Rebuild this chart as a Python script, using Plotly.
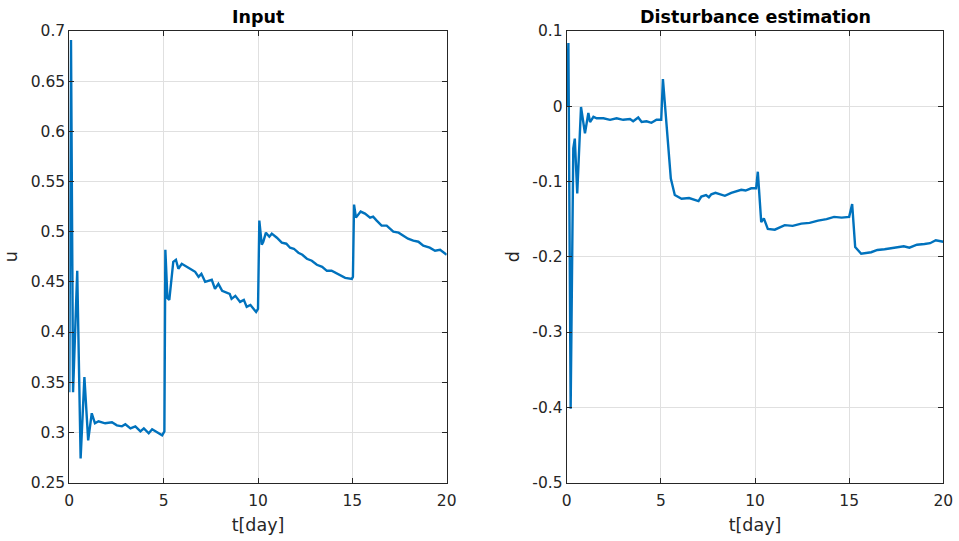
import plotly.graph_objects as go

# Control input u(t)
t_u = [0, 0.09, 0.2, 0.42, 0.6, 0.8, 1.0, 1.19, 1.36, 1.55, 1.9, 2.26, 2.52, 2.79,
       2.97, 3.24, 3.5, 3.77, 3.95, 4.21, 4.39, 4.65, 4.92, 5.04, 5.09, 5.2, 5.3,
       5.51, 5.65, 5.78, 5.96, 6.4, 6.67, 6.85, 7.0, 7.2, 7.55, 7.72, 7.9, 8.1,
       8.5, 8.6, 8.8, 9.05, 9.25, 9.4, 9.6, 9.9, 10.0, 10.07, 10.2, 10.28, 10.42,
       10.6, 10.73, 11.0, 11.26, 11.5, 11.7, 11.9, 12.14, 12.35, 12.59, 12.85,
       13.12, 13.4, 13.65, 13.9, 14.18, 14.4, 14.62, 14.97, 15.03, 15.09, 15.19,
       15.44, 15.67, 15.94, 16.1, 16.29, 16.55, 16.82, 17.0, 17.17, 17.45, 17.7,
       17.95, 18.23, 18.5, 18.76, 19.1, 19.38, 19.65, 20]
u = [0.340, 0.691, 0.340, 0.461, 0.274, 0.355, 0.292, 0.319, 0.309, 0.311, 0.309,
     0.310, 0.307, 0.306, 0.308, 0.304, 0.306, 0.301, 0.304, 0.299, 0.303, 0.300,
     0.297, 0.301, 0.482, 0.434, 0.432, 0.470, 0.472, 0.463, 0.468, 0.463, 0.460,
     0.455, 0.458, 0.450, 0.452, 0.443, 0.448, 0.441, 0.438, 0.433, 0.436, 0.430,
     0.432, 0.425, 0.427, 0.420, 0.423, 0.511, 0.487, 0.490, 0.499, 0.495, 0.498,
     0.494, 0.489, 0.488, 0.484, 0.483, 0.479, 0.477, 0.473, 0.471, 0.467, 0.465,
     0.461, 0.461, 0.458, 0.456, 0.454, 0.453, 0.455, 0.527, 0.514, 0.520, 0.518,
     0.514, 0.515, 0.511, 0.506, 0.506, 0.503, 0.500, 0.499, 0.496, 0.493, 0.491,
     0.490, 0.486, 0.484, 0.481, 0.482, 0.477]

# Estimated disturbance d(t)
t_d = [0, 0.09, 0.21, 0.35, 0.43, 0.56, 0.76, 0.97, 1.15, 1.24, 1.42, 1.59, 1.95,
       2.3, 2.65, 3.0, 3.36, 3.53, 3.8, 3.98, 4.24, 4.5, 4.77, 5.02, 5.11, 5.35,
       5.53, 5.74, 6.1, 6.5, 6.8, 7.0, 7.15, 7.4, 7.55, 7.68, 7.9, 8.2, 8.4, 8.74,
       9.0, 9.27, 9.5, 9.8, 10.06, 10.15, 10.33, 10.47, 10.68, 11.05, 11.58,
       12.0, 12.46, 12.9, 13.35, 13.8, 14.2, 14.6, 15.0, 15.16, 15.32, 15.64,
       16.17, 16.5, 16.88, 17.4, 17.9, 18.2, 18.6, 19.0, 19.3, 19.6, 20]
d = [0.0, 0.084, -0.402, -0.056, -0.043, -0.116, -0.001, -0.036, -0.009, -0.021,
     -0.014, -0.016, -0.016, -0.018, -0.016, -0.018, -0.017, -0.020, -0.015,
     -0.021, -0.020, -0.022, -0.018, -0.018, 0.036, -0.041, -0.096, -0.118,
     -0.123, -0.122, -0.124, -0.126, -0.120, -0.118, -0.121, -0.117, -0.115,
     -0.117, -0.119, -0.115, -0.113, -0.111, -0.112, -0.109, -0.109, -0.087,
     -0.154, -0.149, -0.163, -0.164, -0.158, -0.159, -0.156, -0.155, -0.152,
     -0.150, -0.147, -0.148, -0.147, -0.130, -0.187, -0.196, -0.194, -0.191,
     -0.190, -0.188, -0.186, -0.188, -0.184, -0.183, -0.182, -0.178, -0.180]

x_ticks = [0, 5, 10, 15, 20]
u_ticks = [0.25, 0.3, 0.35, 0.4, 0.45, 0.5, 0.55, 0.6, 0.65, 0.7]
u_tick_text = ["0.25", "0.3", "0.35", "0.4", "0.45", "0.5", "0.55", "0.6", "0.65", "0.7"]
d_ticks = [-0.5, -0.4, -0.3, -0.2, -0.1, 0, 0.1]
d_tick_text = ["-0.5", "-0.4", "-0.3", "-0.2", "-0.1", "0", "0.1"]

LINE_BLUE = "#0072BD"
AX_COLOR = "#262626"
GRID = "#e0e0e0"
FONT = "DejaVu Sans"

fig = go.Figure()
fig.add_trace(go.Scatter(x=t_u, y=u, mode="lines", xaxis="x", yaxis="y",
                         line=dict(color=LINE_BLUE, width=2.4), showlegend=False))
fig.add_trace(go.Scatter(x=t_d, y=d, mode="lines", xaxis="x2", yaxis="y2",
                         line=dict(color=LINE_BLUE, width=2.4), showlegend=False))

common_axis = dict(showline=True, linecolor=AX_COLOR, linewidth=1, mirror="ticks",
                   ticks="inside", ticklen=5, tickcolor=AX_COLOR, showgrid=True,
                   gridcolor=GRID, gridwidth=1, zeroline=False, automargin=False,
                   tickfont=dict(family=FONT, size=15.5, color=AX_COLOR))
x_axis_extra = dict(ticklabelstandoff=4,
                    title=dict(text="t[day]", font=dict(size=17.5), standoff=9))

y_dom = [1 - 482.5 / 541, 1 - 31 / 541]
fig.update_layout(
    width=959, height=541, margin=dict(l=0, r=0, t=0, b=0),
    paper_bgcolor="white", plot_bgcolor="white",
    font=dict(family=FONT, color=AX_COLOR),
    xaxis=dict(domain=[69.3 / 959, 446.7 / 959], range=[0, 20], tickvals=x_ticks,
               anchor="y", **x_axis_extra, **common_axis),
    yaxis=dict(domain=y_dom, range=[0.25, 0.7], tickvals=u_ticks, ticktext=u_tick_text,
               anchor="x", title=dict(text="u", font=dict(size=17.5), standoff=8),
               **common_axis),
    xaxis2=dict(domain=[566.7 / 959, 943.3 / 959], range=[0, 20], tickvals=x_ticks,
                anchor="y2", **x_axis_extra, **common_axis),
    yaxis2=dict(domain=y_dom, range=[-0.5, 0.1], tickvals=d_ticks, ticktext=d_tick_text,
                anchor="x2", title=dict(text="d", font=dict(size=17.5), standoff=8),
                **common_axis),
    annotations=[
        dict(text="<b>Input</b>", x=(69.3 + 446.7) / 2 / 959, y=1 - 17.5 / 541,
             xref="paper", yref="paper", showarrow=False, xanchor="center",
             yanchor="middle", font=dict(family=FONT, size=17.5, color="black")),
        dict(text="<b>Disturbance estimation</b>", x=(566.7 + 943.3) / 2 / 959,
             y=1 - 17.5 / 541, xref="paper", yref="paper", showarrow=False,
             xanchor="center", yanchor="middle",
             font=dict(family=FONT, size=17.5, color="black")),
    ],
)

fig.write_html("out.html")
